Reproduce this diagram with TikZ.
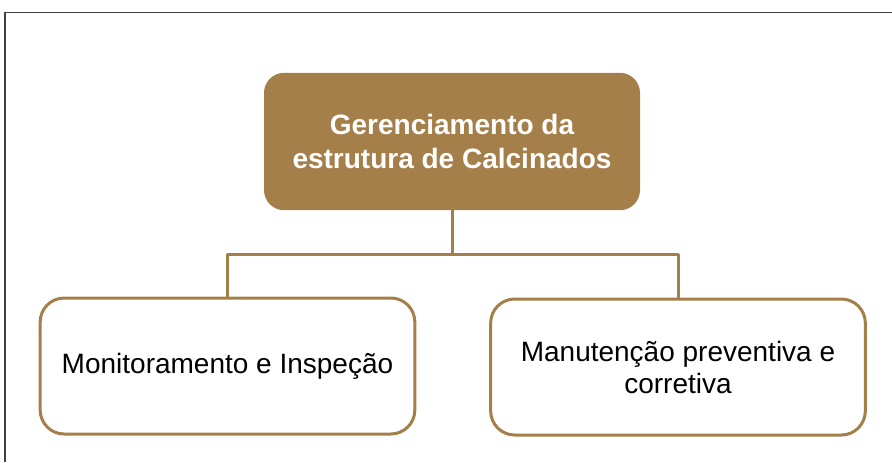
\documentclass[tikz,border=0pt]{standalone}
\usepackage{fontspec}
\setmainfont{Liberation Sans}
\usepackage{tikz}
\usetikzlibrary{positioning}
\definecolor{ouro}{HTML}{A57F4A}
\definecolor{moldura}{HTML}{404040}
\tikzset{
  topobox/.style={draw=none,fill=ouro,rounded corners=15pt,minimum width=282pt,minimum height=103pt,
    text=white,align=center,font=\fontsize{21}{25.5}\selectfont\bfseries},
  ramobox/.style={draw=ouro,line width=2.25pt,fill=white,rounded corners=18pt,minimum width=281pt,minimum height=102pt,
    align=center,font=\fontsize{21}{24}\selectfont},
  liga/.style={draw=ouro,line width=2.25pt}
}

\begin{document}
\begin{tikzpicture}[line cap=round,line join=round,x=0.75pt,y=-0.75pt]
		\useasboundingbox (0,0) rectangle (892,462);
		\draw[color=moldura,line width=1.1pt,line cap=butt] (5,462) -- (5,12.5) -- (892,12.5);
		% caixa principal
		\node[topobox] (gerencia) at (452,141.5) {Gerenciamento da\\estrutura de Calcinados};
		% ramos
		\node[ramobox] (monit) at (227.5,366) {Monitoramento e Inspe\c{c}\~ao};
		\node[ramobox] (manut) at (678,367) {Manuten\c{c}\~ao preventiva e\\corretiva};
		\coordinate (meio) at (452,254);
		\draw[liga] (gerencia.south) -- (meio);
		\draw[liga] (meio) -| (monit.north);
		\draw[liga] (meio) -| (manut.north);
		\end{tikzpicture}
\end{document}
